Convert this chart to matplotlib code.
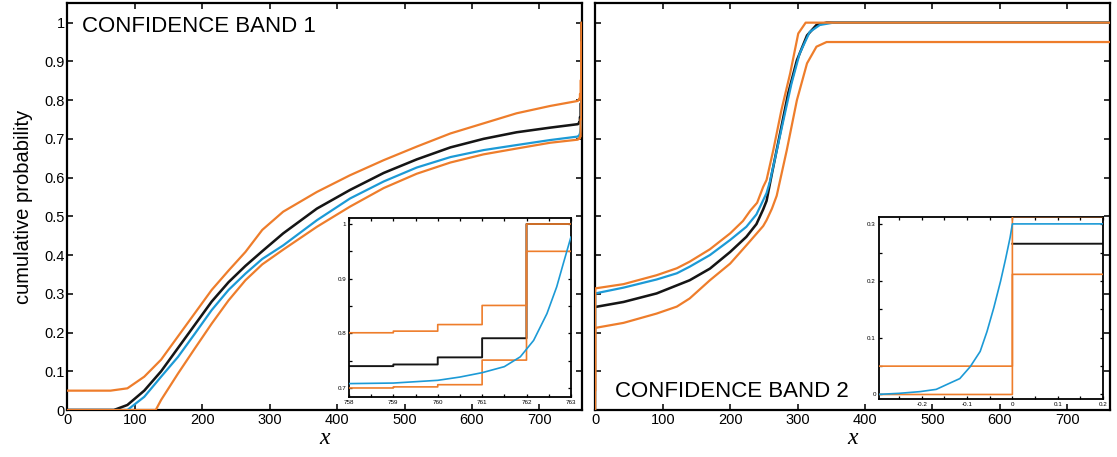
import numpy as np
import matplotlib.pyplot as plt
from matplotlib.ticker import MultipleLocator, FuncFormatter

plt.rcParams['font.family'] = ['Liberation Sans', 'DejaVu Sans']

ORANGE = '#EE7D2B'
BLUE = '#1C9AD6'
BLACK = '#151515'

# ---------------- band 1 ----------------
# smooth part of the curves
b1_up_x = [0, 64, 89, 114, 139, 164, 189, 214, 239, 264, 289, 320, 370, 419, 469, 518, 568, 617, 666, 716, 757]
b1_up_y = [0.05, 0.05, 0.056, 0.086, 0.13, 0.19, 0.25, 0.31, 0.36, 0.408, 0.465, 0.512, 0.563, 0.606, 0.645,
           0.68, 0.714, 0.74, 0.766, 0.785, 0.798]
b1_lo_x = [0, 131, 139, 164, 189, 214, 239, 264, 289, 320, 370, 419, 469, 518, 568, 617, 666, 716, 757]
b1_lo_y = [0, 0, 0.026, 0.094, 0.159, 0.223, 0.283, 0.335, 0.376, 0.414, 0.473, 0.525, 0.573, 0.61, 0.639,
           0.66, 0.675, 0.69, 0.698]
b1_cdf_x = [0, 69, 89, 114, 139, 164, 189, 214, 239, 264, 289, 320, 370, 419, 469, 518, 568, 617, 666, 716, 757]
b1_cdf_y = [0, 0, 0.013, 0.05, 0.10, 0.16, 0.22, 0.28, 0.33, 0.372, 0.41, 0.456, 0.52, 0.568, 0.612, 0.647,
            0.678, 0.7, 0.717, 0.729, 0.738]
b1_emp_x = [0, 89, 114, 139, 164, 189, 214, 239, 264, 289, 320, 370, 419, 469, 518, 568, 617, 666, 716, 757,
            758, 759, 760, 760.5, 761, 761.5, 761.86, 762.16, 762.46, 762.68, 762.83, 763]
b1_emp_y = [0, 0, 0.034, 0.086, 0.137, 0.197, 0.258, 0.31, 0.352, 0.39, 0.425, 0.49, 0.546, 0.59, 0.626,
            0.653, 0.671, 0.684, 0.697, 0.706, 0.708, 0.709, 0.714, 0.72, 0.728, 0.739, 0.757, 0.787, 0.836,
            0.885, 0.928, 0.976]
# integer grid at the upper end (step values)
b1_tail_x = [758, 759, 760, 761, 762, 763]
b1_up_tail = [0.801, 0.804, 0.816, 0.851, 1.0, 1.0]
b1_lo_tail = [0.70, 0.702, 0.706, 0.751, 0.95, 0.95]
b1_cdf_tail = [0.74, 0.743, 0.756, 0.791, 1.0, 1.0]

# ---------------- band 2 ----------------
b2_up_x = [-0.3, 0, 0, 42, 91, 121, 140, 170, 200, 219, 230, 240, 249, 254, 264, 276, 289, 301, 312, 763]
b2_up_y = [0.05, 0.05, 0.314, 0.325, 0.348, 0.366, 0.383, 0.415, 0.456, 0.488, 0.515, 0.535, 0.576, 0.594,
           0.671, 0.774, 0.869, 0.972, 1.0, 1.0]
b2_lo_x = [-0.3, 0, 0, 42, 91, 121, 140, 170, 200, 224, 239, 249, 254, 262, 269, 284, 299, 314, 328, 343, 763]
b2_lo_y = [0, 0, 0.212, 0.225, 0.249, 0.267, 0.288, 0.335, 0.378, 0.425, 0.455, 0.475, 0.49, 0.52, 0.553,
           0.671, 0.8, 0.895, 0.938, 0.95, 0.95]
b2_cdf_x = [0, 42, 91, 140, 170, 200, 224, 239, 249, 254, 262, 274, 286, 299, 314, 328, 343, 763]
b2_cdf_y = [0.266, 0.279, 0.301, 0.335, 0.365, 0.408, 0.447, 0.48, 0.518, 0.54, 0.611, 0.714, 0.817, 0.903,
            0.967, 0.994, 1.0, 1.0]
b2_emp_x = [-0.3, -0.25, -0.204, -0.168, -0.138, -0.116, -0.093, -0.071, -0.056, -0.041, -0.026, -0.015,
            -0.005, 0, 42, 91, 121, 140, 170, 200, 224, 239, 254, 259, 266, 279, 291, 303, 318, 333, 353, 763]
b2_emp_y = [0, 0.002, 0.005, 0.009, 0.02, 0.028, 0.049, 0.076, 0.111, 0.153, 0.2, 0.239, 0.277, 0.301,
            0.316, 0.337, 0.353, 0.37, 0.40, 0.439, 0.473, 0.505, 0.56, 0.59, 0.645, 0.748, 0.843, 0.92,
            0.976, 0.994, 1.0, 1.0]

x_ticks = [0, 100, 200, 300, 400, 500, 600, 700]
y_ticks = [0, 0.1, 0.2, 0.3, 0.4, 0.5, 0.6, 0.7, 0.8, 0.9, 1]


def steps(xs, ys):
    sx = np.repeat(xs, 2)[1:]
    sy = np.repeat(ys, 2)[:-1]
    return sx, sy


def with_tail(x, y, tx, ty):
    sx, sy = steps(tx, ty)
    return np.concatenate([x, sx]), np.concatenate([y, sy])


fmt = FuncFormatter(lambda v, p: '%g' % round(v, 6))


def style(ax, lw, tlen, lsize):
    for s in ax.spines.values():
        s.set_linewidth(lw)
    ax.tick_params(which='both', direction='in', top=True, right=True, width=lw * 0.7,
                   labelsize=lsize, pad=2)
    ax.tick_params(which='major', length=tlen)
    ax.tick_params(which='minor', length=tlen)
    ax.xaxis.set_major_formatter(fmt)
    ax.yaxis.set_major_formatter(fmt)


def draw(ax, curves, lw, band_on_top=True):
    (ux, uy), (lx, ly), (cx, cy), (ex, ey) = curves
    zb = 5 if band_on_top else 3
    ax.plot(cx, cy, color=BLACK, lw=lw * 1.15, zorder=2)
    ax.plot(ex, ey, color=BLUE, lw=lw, zorder=4)
    ax.plot(ux, uy, color=ORANGE, lw=lw, zorder=zb)
    ax.plot(lx, ly, color=ORANGE, lw=lw, zorder=zb)


band1 = [with_tail(b1_up_x, b1_up_y, b1_tail_x, b1_up_tail),
         with_tail(b1_lo_x, b1_lo_y, b1_tail_x, b1_lo_tail),
         with_tail(b1_cdf_x, b1_cdf_y, b1_tail_x, b1_cdf_tail),
         (b1_emp_x, b1_emp_y)]
band2 = [(b2_up_x, b2_up_y), (b2_lo_x, b2_lo_y), (b2_cdf_x, b2_cdf_y), (b2_emp_x, b2_emp_y)]

fig = plt.figure(figsize=(11.17, 4.57), dpi=100)
ax1 = fig.add_axes([0.0603, 0.1028, 0.4607, 0.8900])
ax2 = fig.add_axes([0.5329, 0.1028, 0.4607, 0.8900])

for ax, band in [(ax1, band1), (ax2, band2)]:
    draw(ax, band, 1.6)
    ax.set_xlim(0, 763)
    ax.set_ylim(0, 1.05)
    ax.set_xticks(x_ticks)
    ax.set_yticks(y_ticks)
    style(ax, 1.6, 4.5, 10.5)
    ax.set_xlabel('x', family='Liberation Serif', style='italic', fontsize=17, labelpad=1)

ax2.tick_params(labelleft=False)
ax1.set_ylabel('cumulative probability', fontsize=14.5, labelpad=8)

ax1.text(0.028, 0.929, 'CONFIDENCE BAND 1', transform=ax1.transAxes, fontsize=16, va='baseline')
ax2.text(0.038, 0.032, 'CONFIDENCE BAND 2', transform=ax2.transAxes, fontsize=16, va='baseline')

# zoom on the upper end of band 1
in1 = fig.add_axes([0.3124, 0.1313, 0.1987, 0.3917])
draw(in1, band1, 1.2, band_on_top=False)
in1.set_xlim(758, 763)
in1.set_ylim(0.6835, 1.011)
in1.xaxis.set_major_locator(MultipleLocator(1))
in1.xaxis.set_minor_locator(MultipleLocator(0.5))
in1.yaxis.set_major_locator(MultipleLocator(0.1))
in1.yaxis.set_minor_locator(MultipleLocator(0.05))
style(in1, 1.3, 2.5, 4.5)

# zoom around zero for band 2
in2 = fig.add_axes([0.7866, 0.1269, 0.2009, 0.3980])
draw(in2, band2, 1.2, band_on_top=False)
in2.set_xlim(-0.295, 0.2)
in2.set_ylim(-0.008, 0.313)
in2.xaxis.set_major_locator(MultipleLocator(0.1))
in2.xaxis.set_minor_locator(MultipleLocator(0.05))
in2.yaxis.set_major_locator(MultipleLocator(0.1))
in2.yaxis.set_minor_locator(MultipleLocator(0.05))
style(in2, 1.3, 2.5, 4.5)

fig.savefig('out.png', dpi=100)
